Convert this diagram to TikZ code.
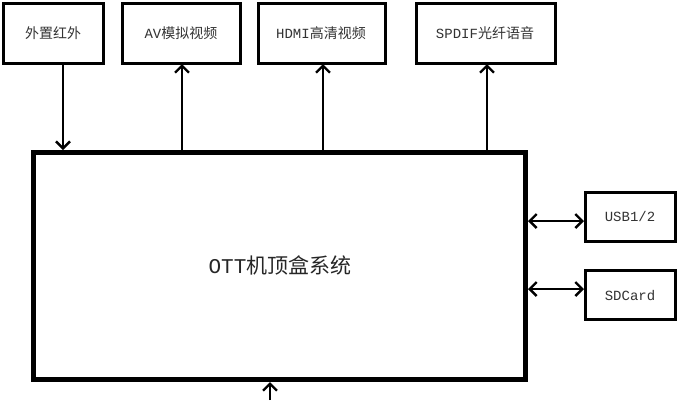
\documentclass[tikz,border=0pt]{standalone}
\usepackage{fontspec}
\setmainfont{Liberation Mono}
\newfontfamily\cjk{Noto Sans CJK SC}
\usetikzlibrary{arrows.meta}
\begin{document}
\begin{tikzpicture}[x=1pt,y=-1pt,
  bx/.style={draw,line width=3pt,inner sep=0},
  ar/.style={line width=2.4pt,-{Straight Barb[length=7pt,width=14pt,line width=2.4pt]}},
  dar/.style={line width=2.4pt,{Straight Barb[length=7pt,width=14pt,line width=2.4pt]}-{Straight Barb[length=7pt,width=14pt,line width=2.4pt]}},
  tx/.style={font=\fontsize{14}{16}\selectfont,text=black!80}]
\useasboundingbox[fill=white] (0,0) rectangle (678,400);
\draw[bx] (3,3) rectangle (103,63); \node[tx] (b1) at (53,33) {\cjk 外置红外};
\draw[bx] (122,3) rectangle (240,63); \node[tx] (b2) at (181,33) {AV\cjk 模拟视频};
\draw[bx] (258,3) rectangle (385,63); \node[tx] (b3) at (321,33) {HDMI\cjk 高清视频};
\draw[bx] (416,3) rectangle (555,63); \node[tx] (b4) at (485,33) {SPDIF\cjk 光纤语音};
\draw[line width=5pt] (33,152) rectangle (525,379);
\node[font=\fontsize{21}{25}\selectfont,text=black!85] (m) at (280,265) {OTT\cjk 机顶盒系统};
\draw[bx] (585,192) rectangle (675,241); \node[tx] (u) at (630,216) {USB1/2};
\draw[bx] (585,270) rectangle (675,319); \node[tx] (s) at (630,296) {SDCard};
\coordinate (t1) at (63,64); \coordinate (m1) at (63,150);
\coordinate (t2) at (182,64); \coordinate (m2) at (182,150);
\coordinate (t3) at (323,64); \coordinate (m3) at (323,150);
\coordinate (t4) at (487,64); \coordinate (m4) at (487,150);
\draw[ar] (t1) -- (m1);
\draw[ar] (m2) -- (t2);
\draw[ar] (m3) -- (t3);
\draw[ar] (m4) -- (t4);
\coordinate (r1) at (528,221); \coordinate (u1) at (584,221);
\coordinate (r2) at (528,289); \coordinate (s1) at (584,289);
\draw[dar] (r1) -- (u1);
\draw[dar] (r2) -- (s1);
\coordinate (bb) at (270,400); \coordinate (bm) at (270,382);
\draw[ar] (bb) -- (bm);
\end{tikzpicture}
\end{document}
